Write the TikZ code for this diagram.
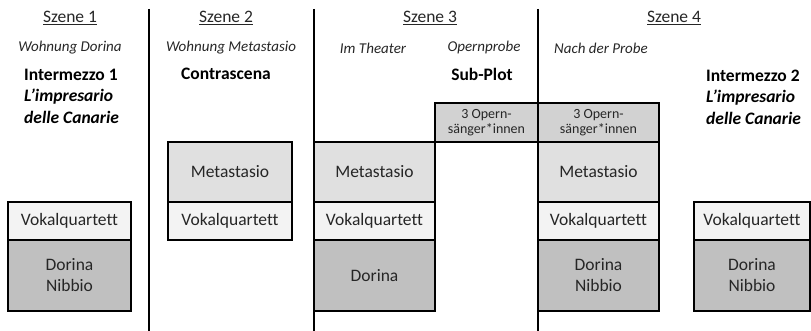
\documentclass[tikz,border=0pt]{standalone}
\usepackage{fontspec}
\setmainfont{Carlito}[Ligatures=NoCommon]
\usetikzlibrary{positioning}

\definecolor{vokalgray}{HTML}{F3F3F3}
\definecolor{metagray}{HTML}{E0E0E0}
\definecolor{operngray}{HTML}{D2D2D2}
\definecolor{dorinagray}{HTML}{C0C0C0}

\begin{document}
\begin{tikzpicture}[x=1pt,y=-1pt,
  rolle/.style={draw, line width=2.4pt, outer sep=0pt, inner sep=0pt,
    align=center, font=\fontsize{17.5}{21}\selectfont, text=black!85},
  vokal/.style={rolle, fill=vokalgray, minimum height=38pt},
  meta/.style={rolle, fill=metagray, minimum height=60pt},
  dorina/.style={rolle, fill=dorinagray, minimum height=71pt},
  opern/.style={rolle, fill=operngray, minimum height=39pt,
    font=\fontsize{14}{15}\selectfont},
  szene/.style={font=\fontsize{17.5}{21}\selectfont, text=black!85},
  ort/.style={font=\fontsize{15}{18}\selectfont\itshape, text=black!85},
  titel/.style={font=\fontsize{17.5}{21.5}\selectfont\bfseries, align=left}]
  \useasboundingbox (0,0) rectangle (811,331);

  % Scene separators
  \foreach \x in {149,314,538}
    \draw[line width=2.6pt] (\x,9) -- (\x,331);

  % Scene headings
  \node[szene] (sz1) at (70,18) {\underline{Szene 1}};
  \node[szene] (sz2) at (226,18) {\underline{Szene 2}};
  \node[szene] (sz3) at (430,18) {\underline{Szene 3}};
  \node[szene] (sz4) at (674,18) {\underline{Szene 4}};

  % Places
  \node[ort] (ort1) at (70,48) {Wohnung Dorina};
  \node[ort] (ort2) at (231,48) {Wohnung Metastasio};
  \node[ort] (ort3) at (373,48) {Im Theater};
  \node[ort] (ort4) at (484,48) {Opernprobe};
  \node[ort] (ort5) at (601,48) {Nach der Probe};

  % Plot titles
  \node[titel, anchor=west, inner sep=0pt] (inter1) at (24,96)
    {Intermezzo 1\\\textit{L’impresario}\\\textit{delle Canarie}};
  \node[titel] (contra) at (226,74) {Contrascena};
  \node[titel] (sub) at (482,74) {Sub-Plot};
  \node[titel, anchor=west, inner sep=0pt] (inter2) at (706,97)
    {Intermezzo 2\\\textit{L’impresario}\\\textit{delle Canarie}};

  % Scene 1
  \node[vokal, minimum width=123pt, anchor=north west] (vq1) at (8,202) {Vokalquartett};
  \node[dorina, minimum width=123pt, below=0pt of vq1] (dn1) {Dorina\\Nibbio};

  % Scene 2
  \node[meta, minimum width=124pt, anchor=north west] (mt2) at (168,142) {Metastasio};
  \node[vokal, minimum width=124pt, below=0pt of mt2] (vq2) {Vokalquartett};

  % Scene 3
  \node[meta, minimum width=121pt, anchor=north west] (mt3) at (314,142) {Metastasio};
  \node[vokal, minimum width=121pt, below=0pt of mt3] (vq3) {Vokalquartett};
  \node[dorina, minimum width=121pt, below=0pt of vq3] (dn3) {Dorina};
  \node[opern, minimum width=103pt, anchor=north west] (op3) at (435,103) {3 Opern-\\sänger*innen};

  % Scene 4
  \node[opern, minimum width=121pt, anchor=north west] (op4) at (538,103) {3 Opern-\\sänger*innen};
  \node[meta, minimum width=121pt, below=0pt of op4, minimum height=60pt] (mt4) {Metastasio};
  \node[vokal, minimum width=121pt, below=0pt of mt4] (vq4) {Vokalquartett};
  \node[dorina, minimum width=121pt, below=0pt of vq4] (dn4) {Dorina\\Nibbio};

  % Intermezzo 2
  \node[vokal, minimum width=116pt, anchor=north west] (vq5) at (694,202) {Vokalquartett};
  \node[dorina, minimum width=116pt, below=0pt of vq5] (dn5) {Dorina\\Nibbio};
\end{tikzpicture}
\end{document}
